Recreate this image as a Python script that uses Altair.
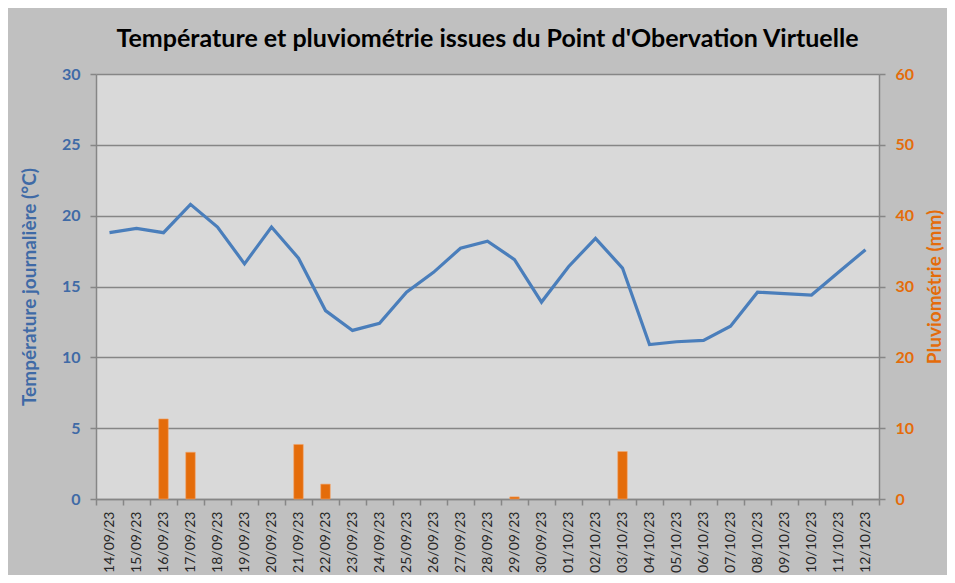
import altair as alt
import pandas as pd

dates = ["14/09/23", "15/09/23", "16/09/23", "17/09/23", "18/09/23", "19/09/23",
         "20/09/23", "21/09/23", "22/09/23", "23/09/23", "24/09/23", "25/09/23",
         "26/09/23", "27/09/23", "28/09/23", "29/09/23", "30/09/23", "01/10/23",
         "02/10/23", "03/10/23", "04/10/23", "05/10/23", "06/10/23", "07/10/23",
         "08/10/23", "09/10/23", "10/10/23", "11/10/23", "12/10/23"]
temperature = [18.8, 19.1, 18.8, 20.8, 19.2, 16.6, 19.2, 17.0, 13.3, 11.9, 12.4, 14.6,
               16.0, 17.7, 18.2, 16.9, 13.9, 16.4, 18.4, 16.3, 10.9, 11.1, 11.2, 12.2,
               14.6, 14.5, 14.4, 16.0, 17.6]
rain = [0, 0, 11.3, 6.6, 0, 0, 0, 7.7, 2.1, 0, 0, 0,
        0, 0, 0, 0.3, 0, 0, 0, 6.7, 0, 0, 0, 0,
        0, 0, 0, 0, 0]

temp_ticks = [0, 5, 10, 15, 20, 25, 30]
rain_ticks = [0, 10, 20, 30, 40, 50, 60]

df = pd.DataFrame({"date": dates, "temp": temperature, "rain": rain})

FONT = "Lato"
GRID = "#868686"
BLUE_LINE = "#4A7EBB"
BLUE_TXT = "#3F6AA6"
ORANGE = "#E46C0A"

x = alt.X(
    "date:N",
    sort=dates,
    scale=alt.Scale(paddingInner=0, paddingOuter=0),
    axis=alt.Axis(
        title=None,
        labelAngle=270,
        labelFont=FONT,
        labelFontSize=14,
        labelColor="#262626",
        labelPadding=6,
        tickBand="extent",
        tickSize=6,
        tickColor=GRID,
        tickWidth=1.5,
        domainColor=GRID,
        domainWidth=1.5,
        grid=False,
    ),
)

bars = alt.Chart(df).transform_filter(
    alt.datum.rain > 0
).mark_bar(
    color=ORANGE, width=9.5, stroke="#F3A56A", strokeWidth=0.6
).encode(
    x=x,
    y=alt.Y(
        "rain:Q",
        scale=alt.Scale(domain=[0, 60]),
        axis=alt.Axis(
            orient="right",
            title="Pluviométrie (mm)",
            values=rain_ticks,
            grid=False,
            labelFont=FONT,
            labelFontSize=16,
            labelFontWeight="bold",
            labelColor=ORANGE,
            labelPadding=10,
            tickSize=6,
            tickColor=GRID,
            tickWidth=1.5,
            domainColor=GRID,
            domainWidth=1.5,
            titleFont=FONT,
            titleFontSize=19,
            titleFontWeight="bold",
            titleColor=ORANGE,
            titleAngle=270,
            titleBaseline="top",
            titlePadding=12,
        ),
    ),
)

line = alt.Chart(df).mark_line(color=BLUE_LINE, strokeWidth=3.2).encode(
    x=x,
    y=alt.Y(
        "temp:Q",
        scale=alt.Scale(domain=[0, 30]),
        axis=alt.Axis(
            orient="left",
            title="Température journalière (°C)",
            values=temp_ticks,
            grid=True,
            gridColor=GRID,
            gridWidth=1.5,
            labelFont=FONT,
            labelFontSize=16,
            labelFontWeight="bold",
            labelColor=BLUE_TXT,
            labelPadding=10,
            tickSize=6,
            tickColor=GRID,
            tickWidth=1.5,
            domainColor=GRID,
            domainWidth=1.5,
            titleFont=FONT,
            titleFontSize=19,
            titleFontWeight="bold",
            titleColor=BLUE_TXT,
            titlePadding=22,
        ),
    ),
)

chart = alt.layer(bars, line).resolve_scale(y="independent").properties(
    width=783,
    height=425,
    title=alt.TitleParams(
        "Température et pluviométrie issues du Point d'Obervation Virtuelle",
        font=FONT,
        fontSize=25,
        fontWeight="bold",
        color="#000000",
        anchor="middle",
        offset=14,
    ),
    autosize=alt.AutoSizeParams(type="none"),
    padding={"left": 88, "top": 66, "right": 68, "bottom": 76},
    background="#C0C0C0",
).configure_view(
    fill="#D9D9D9", stroke=None
)

chart.save("out.html", embed_options={"renderer": "svg", "actions": False})
